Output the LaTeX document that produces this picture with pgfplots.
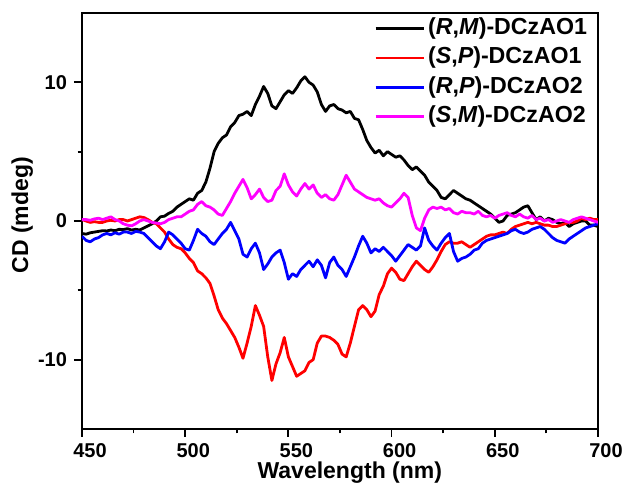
\documentclass[border=0pt]{standalone}
\usepackage{fontspec}
\setmainfont{Liberation Sans}
\usepackage{pgfplots}
\pgfplotsset{compat=1.18}
\definecolor{cdmag}{RGB}{255,0,255}
\definecolor{cdred}{RGB}{255,0,0}
\definecolor{cdblue}{RGB}{0,0,255}
\begin{document}
\begin{tikzpicture}
\path[use as bounding box] (-41pt,-30.5pt) rectangle (273pt,214.5pt);
\begin{axis}[
  at={(0,0)}, anchor=south west,
  scale only axis, width=258pt, height=208pt,
  xmin=450, xmax=700, ymin=-15, ymax=15,
  xtick={450,500,550,600,650,700},
  ytick={-10,0,10},
  minor xtick={475,525,575,625,675},
  minor ytick={-5,5},
  xtick pos=left, ytick pos=left,
  tick align=outside,
  major tick length=4pt, minor tick length=2.2pt,
  every tick/.style={black, line width=0.9pt},
  axis line style={line width=1pt},
  /pgf/number format/assume math mode=true,
  tick label style={font=\fontsize{10}{12}\selectfont\bfseries},
  xticklabel style={xshift=4pt, yshift=-0.6pt, inner sep=2.5pt},
  xlabel={Wavelength (nm)}, ylabel={CD (mdeg)},
  label style={font=\fontsize{11.5}{14}\selectfont\bfseries},
  x label style={at={(axis description cs:0.519,-0.104)}, anchor=center, inner sep=1pt},
  y label style={at={(axis description cs:-0.116,0.514)}, anchor=center, rotate=0},
  legend style={draw=none, fill=none, at={(0.997,1.007)}, anchor=north east,
    font=\fontsize{11.6}{14}\selectfont\bfseries, row sep=0.45pt,
    nodes={inner sep=1.5pt, text height=8.6pt, text depth=2.6pt}},
  legend cell align=left,
  legend image code/.code={\draw[#1] (0pt,0pt) -- (24pt,0pt);},
  every axis plot/.append style={line width=1.4pt, line join=round},
]
\addplot[black] coordinates {
(450,-0.9)(452,-0.95)(454,-0.85)(456,-0.8)(458,-0.75)(460,-0.7)(462,-0.72)(464,-0.65)(466,-0.7)(468,-0.6)
(470,-0.62)(472,-0.55)(474,-0.65)(476,-0.6)(478,-0.65)(480,-0.5)(482,-0.35)(484,-0.2)(486,0.0)(488,0.3)
(490,0.35)(492,0.55)(494,0.7)(496,1.0)(498,1.2)(500,1.4)(502,1.6)(504,1.5)(506,2.0)(508,2.2)
(510,2.8)(512,3.8)(514,5.0)(516,5.6)(518,6.0)(520,6.2)(522,6.8)(524,7.1)(526,7.6)(528,7.7)
(530,7.9)(532,7.6)(534,8.4)(536,9.0)(538,9.7)(540,9.2)(542,8.3)(544,8.1)(546,8.6)(548,9.1)
(550,9.4)(552,9.2)(554,9.6)(556,10.1)(558,10.4)(560,10.0)(562,9.8)(564,9.3)(566,8.4)(568,7.9)
(570,8.3)(572,8.4)(574,8.1)(576,8.0)(578,7.8)(580,7.9)(582,7.4)(584,7.3)(586,6.6)(588,5.8)
(590,5.3)(592,4.9)(594,5.1)(596,4.7)(598,5.0)(600,4.8)(602,4.6)(604,4.7)(606,4.4)(608,4.0)
(610,3.7)(612,3.9)(614,3.6)(616,3.3)(618,2.8)(620,2.5)(622,2.2)(624,1.7)(626,1.6)(628,1.9)
(630,2.2)(632,2.0)(634,1.8)(636,1.6)(638,1.5)(640,1.3)(642,1.1)(644,0.9)(646,0.7)(648,0.5)
(650,0.2)(652,-0.1)(654,0.0)(656,0.4)(658,0.5)(660,0.6)(662,0.8)(664,1.0)(666,1.1)(668,0.6)
(670,0.1)(672,0.3)(674,0.0)(676,0.2)(678,0.1)(680,-0.1)(682,-0.2)(684,-0.1)(686,-0.4)(688,-0.2)
(690,-0.1)(692,0.0)(694,0.0)(696,-0.3)(698,-0.3)(700,-0.4)
};
\addlegendentry{(\textit{R},\textit{M})-DCzAO1}
\addplot[cdred] coordinates {
(450,0.1)(452,0.0)(454,-0.1)(456,-0.05)(458,-0.1)(460,-0.1)(462,0.0)(464,0.05)(466,0.0)(468,0.1)
(470,0.1)(472,0.0)(474,0.1)(476,0.2)(478,0.3)(480,0.25)(482,0.1)(484,-0.1)(486,-0.2)(488,-0.5)
(490,-0.8)(492,-1.3)(494,-1.7)(496,-1.9)(498,-2.0)(500,-2.3)(502,-2.7)(504,-3.0)(506,-3.6)(508,-3.8)
(510,-4.1)(512,-4.5)(514,-5.4)(516,-6.4)(518,-7.0)(520,-7.4)(522,-7.9)(524,-8.4)(526,-9.1)(528,-9.9)
(530,-8.8)(532,-7.6)(534,-6.1)(536,-6.8)(538,-7.6)(540,-9.8)(542,-11.5)(544,-10.3)(546,-9.5)(548,-8.4)
(550,-9.8)(552,-10.5)(554,-11.2)(556,-11.0)(558,-10.8)(560,-10.2)(562,-10.0)(564,-8.8)(566,-8.3)(568,-8.3)
(570,-8.4)(572,-8.6)(574,-8.9)(576,-9.6)(578,-9.8)(580,-8.8)(582,-7.6)(584,-6.4)(586,-6.1)(588,-6.4)
(590,-6.9)(592,-6.5)(594,-5.3)(596,-4.7)(598,-3.8)(600,-3.4)(602,-3.7)(604,-4.2)(606,-4.3)(608,-3.8)
(610,-3.3)(612,-2.9)(614,-3.2)(616,-3.5)(618,-3.7)(620,-3.3)(622,-2.8)(624,-2.2)(626,-1.7)(628,-1.5)
(630,-1.6)(632,-1.6)(634,-1.5)(636,-1.7)(638,-1.9)(640,-1.7)(642,-1.5)(644,-1.3)(646,-1.1)(648,-1.0)
(650,-1.0)(652,-0.9)(654,-0.8)(656,-0.9)(658,-0.6)(660,-0.4)(662,-0.3)(664,-0.2)(666,-0.1)(668,-0.2)
(670,-0.1)(672,-0.2)(674,-0.3)(676,-0.3)(678,-0.4)(680,-0.4)(682,-0.3)(684,-0.2)(686,-0.1)(688,-0.1)
(690,0.0)(692,0.2)(694,0.1)(696,0.2)(698,0.1)(700,0.1)
};
\addlegendentry{(\textit{S},\textit{P})-DCzAO1}
\addplot[cdblue] coordinates {
(450,-1.1)(452,-1.4)(454,-1.5)(456,-1.3)(458,-1.2)(460,-1.0)(462,-0.9)(464,-1.0)(466,-0.85)(468,-0.95)
(470,-0.8)(472,-0.8)(474,-0.9)(476,-0.75)(478,-0.8)(480,-0.9)(482,-1.2)(484,-1.5)(486,-1.8)(488,-2.0)
(490,-1.5)(492,-0.8)(494,-1.0)(496,-1.3)(498,-1.6)(500,-2.0)(502,-2.1)(504,-1.4)(506,-0.6)(508,-0.9)
(510,-1.1)(512,-1.5)(514,-1.7)(516,-1.3)(518,-0.9)(520,-0.6)(522,-0.1)(524,-0.7)(526,-1.3)(528,-2.4)
(530,-2.6)(532,-2.0)(534,-1.6)(536,-2.3)(538,-3.5)(540,-3.1)(542,-2.6)(544,-2.3)(546,-2.1)(548,-3.0)
(550,-4.2)(552,-3.8)(554,-4.0)(556,-3.5)(558,-3.2)(560,-2.9)(562,-3.3)(564,-2.8)(566,-3.2)(568,-4.1)
(570,-3.0)(572,-2.6)(574,-3.2)(576,-3.5)(578,-4.0)(580,-3.3)(582,-2.6)(584,-1.8)(586,-1.1)(588,-1.6)
(590,-2.3)(592,-2.0)(594,-2.2)(596,-1.9)(598,-2.2)(600,-2.5)(602,-2.9)(604,-2.5)(606,-2.1)(608,-1.7)
(610,-1.9)(612,-2.1)(614,-1.8)(616,-0.5)(618,-1.4)(620,-1.8)(622,-2.1)(624,-1.6)(626,-1.2)(628,-0.9)
(630,-2.2)(632,-2.9)(634,-2.7)(636,-2.6)(638,-2.4)(640,-2.1)(642,-2.0)(644,-1.6)(646,-1.4)(648,-1.3)
(650,-1.2)(652,-1.1)(654,-1.0)(656,-0.9)(658,-0.7)(660,-0.6)(662,-0.8)(664,-0.9)(666,-0.8)(668,-0.6)
(670,-0.5)(672,-0.4)(674,-0.6)(676,-0.9)(678,-1.2)(680,-1.4)(682,-1.5)(684,-1.6)(686,-1.3)(688,-1.1)
(690,-0.9)(692,-0.7)(694,-0.5)(696,-0.4)(698,-0.3)(700,-0.2)
};
\addlegendentry{(\textit{R},\textit{P})-DCzAO2}
\addplot[cdmag] coordinates {
(450,0.1)(452,0.1)(454,0.05)(456,0.15)(458,0.2)(460,0.1)(462,0.2)(464,0.3)(466,0.1)(468,0.0)
(470,-0.2)(472,-0.3)(474,-0.35)(476,-0.2)(478,0.0)(480,0.1)(482,0.0)(484,-0.1)(486,-0.15)(488,-0.2)
(490,-0.1)(492,0.1)(494,0.2)(496,0.3)(498,0.3)(500,0.5)(502,0.7)(504,0.8)(506,1.2)(508,1.4)
(510,1.1)(512,1.0)(514,0.8)(516,0.5)(518,0.4)(520,0.9)(522,1.4)(524,2.0)(526,2.5)(528,3.0)
(530,2.4)(532,1.6)(534,1.9)(536,2.3)(538,1.7)(540,1.4)(542,1.5)(544,2.2)(546,2.5)(548,3.4)
(550,2.6)(552,2.1)(554,1.8)(556,2.3)(558,2.7)(560,2.3)(562,2.6)(564,2.0)(566,1.7)(568,1.9)
(570,1.6)(572,1.5)(574,1.9)(576,2.6)(578,3.3)(580,2.8)(582,2.3)(584,2.1)(586,1.9)(588,1.7)
(590,1.6)(592,1.5)(594,1.6)(596,1.3)(598,1.1)(600,1.0)(602,1.3)(604,1.6)(606,2.0)(608,1.7)
(610,0.4)(612,-0.5)(614,-0.7)(616,0.2)(618,0.8)(620,1.0)(622,0.9)(624,1.0)(626,0.8)(628,0.9)
(630,0.6)(632,0.5)(634,0.7)(636,0.6)(638,0.6)(640,0.5)(642,0.7)(644,0.4)(646,0.3)(648,0.4)
(650,0.2)(652,0.4)(654,0.5)(656,0.6)(658,0.4)(660,0.3)(662,0.5)(664,0.3)(666,0.2)(668,0.4)
(670,0.1)(672,0.2)(674,0.0)(676,0.1)(678,-0.1)(680,0.0)(682,0.1)(684,0.0)(686,-0.1)(688,0.1)
(690,0.2)(692,0.3)(694,0.2)(696,0.1)(698,0.0)(700,-0.1)
};
\addlegendentry{(\textit{S},\textit{M})-DCzAO2}
\end{axis}
\end{tikzpicture}
\end{document}
